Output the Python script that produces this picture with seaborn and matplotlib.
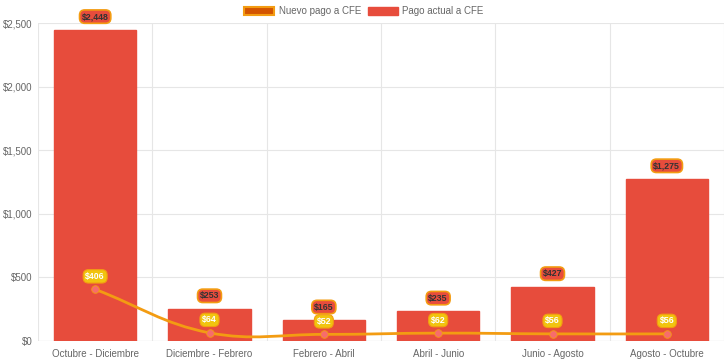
import numpy as np
import pandas as pd
import matplotlib
matplotlib.use("Agg")
import matplotlib.pyplot as plt
import seaborn as sns
from matplotlib.path import Path
from matplotlib.patches import PathPatch, Patch
from matplotlib.ticker import FuncFormatter

categories = ["Octubre - Diciembre", "Diciembre - Febrero", "Febrero - Abril",
              "Abril - Junio", "Junio - Agosto", "Agosto - Octubre"]
pago_actual = [2448, 253, 165, 235, 427, 1275]
nuevo_pago = [406, 64, 52, 62, 56, 56]

sns.set_style("white")
plt.rcParams['font.family'] = ['Liberation Sans', 'DejaVu Sans']

fig = plt.figure(figsize=(7.28, 3.63), dpi=100)
ax = fig.add_axes([38/728, 22/363, (724-38)/728, (341-23)/363])

df = pd.DataFrame({"periodo": categories, "actual": pago_actual})
sns.barplot(data=df, x="periodo", y="actual", color="#e74c3c", saturation=1,
            width=0.72, ax=ax, zorder=2, edgecolor="#e74c3c")

ax.set_xlim(-0.5, 5.5)
ax.set_ylim(0, 2500)

# smooth line (chart.js-like bezier, tension 0.4) in pixel-scaled space
xpx = 114.3
ypx = 318 / 2500
xs = np.arange(len(nuevo_pago), dtype=float)
ys = np.array(nuevo_pago, dtype=float)
P = np.column_stack([xs * xpx, ys * ypx])
t = 0.4
cps = []
n = len(P)
for i in range(n):
    prev = P[i - 1] if i > 0 else P[i]
    nxt = P[i + 1] if i < n - 1 else P[i]
    cur = P[i]
    d01 = np.hypot(*(cur - prev))
    d12 = np.hypot(*(nxt - cur))
    tot = d01 + d12
    s01 = d01 / tot if tot else 0
    s12 = d12 / tot if tot else 0
    fa, fb = t * s01, t * s12
    cp_prev = cur - fa * (nxt - prev)
    cp_next = cur + fb * (nxt - prev)
    cp_prev[1] = max(cp_prev[1], 0); cp_next[1] = max(cp_next[1], 0)
    cps.append((cp_prev, cp_next))
verts = [P[0]]
codes = [Path.MOVETO]
for i in range(n - 1):
    verts += [cps[i][1], cps[i + 1][0], P[i + 1]]
    codes += [Path.CURVE4] * 3
verts = np.array(verts)
verts[:, 0] /= xpx
verts[:, 1] /= ypx
ax.add_patch(PathPatch(Path(verts, codes), fill=False, edgecolor="#f39c12",
                       lw=2, zorder=3, capstyle="round"))
sns.scatterplot(x=xs, y=ys, ax=ax, s=30, color="#f76c6c", edgecolor="#f39c12",
                linewidth=0.6, zorder=4, legend=False)

# value labels
off = 13 / ypx
for i, v in enumerate(pago_actual):
    ax.text(i, v + off, f"${v:,}", ha="center", va="center", fontsize=6.3,
            fontweight="bold", color="#333333", zorder=6,
            bbox=dict(boxstyle="round,pad=0.25,rounding_size=0.6", fc="#e74c3c",
                      ec="#f39c12", lw=1.2))
for i, v in enumerate(nuevo_pago):
    ax.text(i, v + off, f"${v:,}", ha="center", va="center", fontsize=6.3,
            fontweight="bold", color="white", zorder=6,
            bbox=dict(boxstyle="round,pad=0.25,rounding_size=0.6", fc="#f1c40f",
                      ec="#f39c12", lw=0.8))

# grid
ax.set_yticks([0, 500, 1000, 1500, 2000, 2500])
ax.yaxis.set_major_formatter(FuncFormatter(lambda v, p: f"${int(v):,}"))
ax.grid(axis="y", color="#e6e6e6", lw=0.8, zorder=0)
for b in np.arange(-0.5, 6.0, 1.0):
    ax.axvline(b, color="#e6e6e6", lw=0.8, zorder=0)
for s in ax.spines.values():
    s.set_visible(False)
ax.axhline(0, color="#d8d8d8", lw=0.8, zorder=1)
ax.tick_params(axis="both", length=0, labelsize=7, labelcolor="#666666")
ax.tick_params(axis="x", pad=6)
ax.tick_params(axis="y", pad=4)
ax.set_xlabel("")
ax.set_ylabel("")

handles = [Patch(facecolor="#d35400", edgecolor="#f39c12", lw=1.5, label="Nuevo pago a CFE"),
           Patch(facecolor="#e74c3c", edgecolor="#e74c3c", label="Pago actual a CFE")]
fig.legend(handles=handles, loc="center", bbox_to_anchor=(0.5, 1 - 11/363), ncol=2,
           frameon=False, fontsize=7, labelcolor="#666666", handlelength=3.1,
           handleheight=0.9, columnspacing=0.7, handletextpad=0.45)

fig.savefig("out.png", dpi=100)
